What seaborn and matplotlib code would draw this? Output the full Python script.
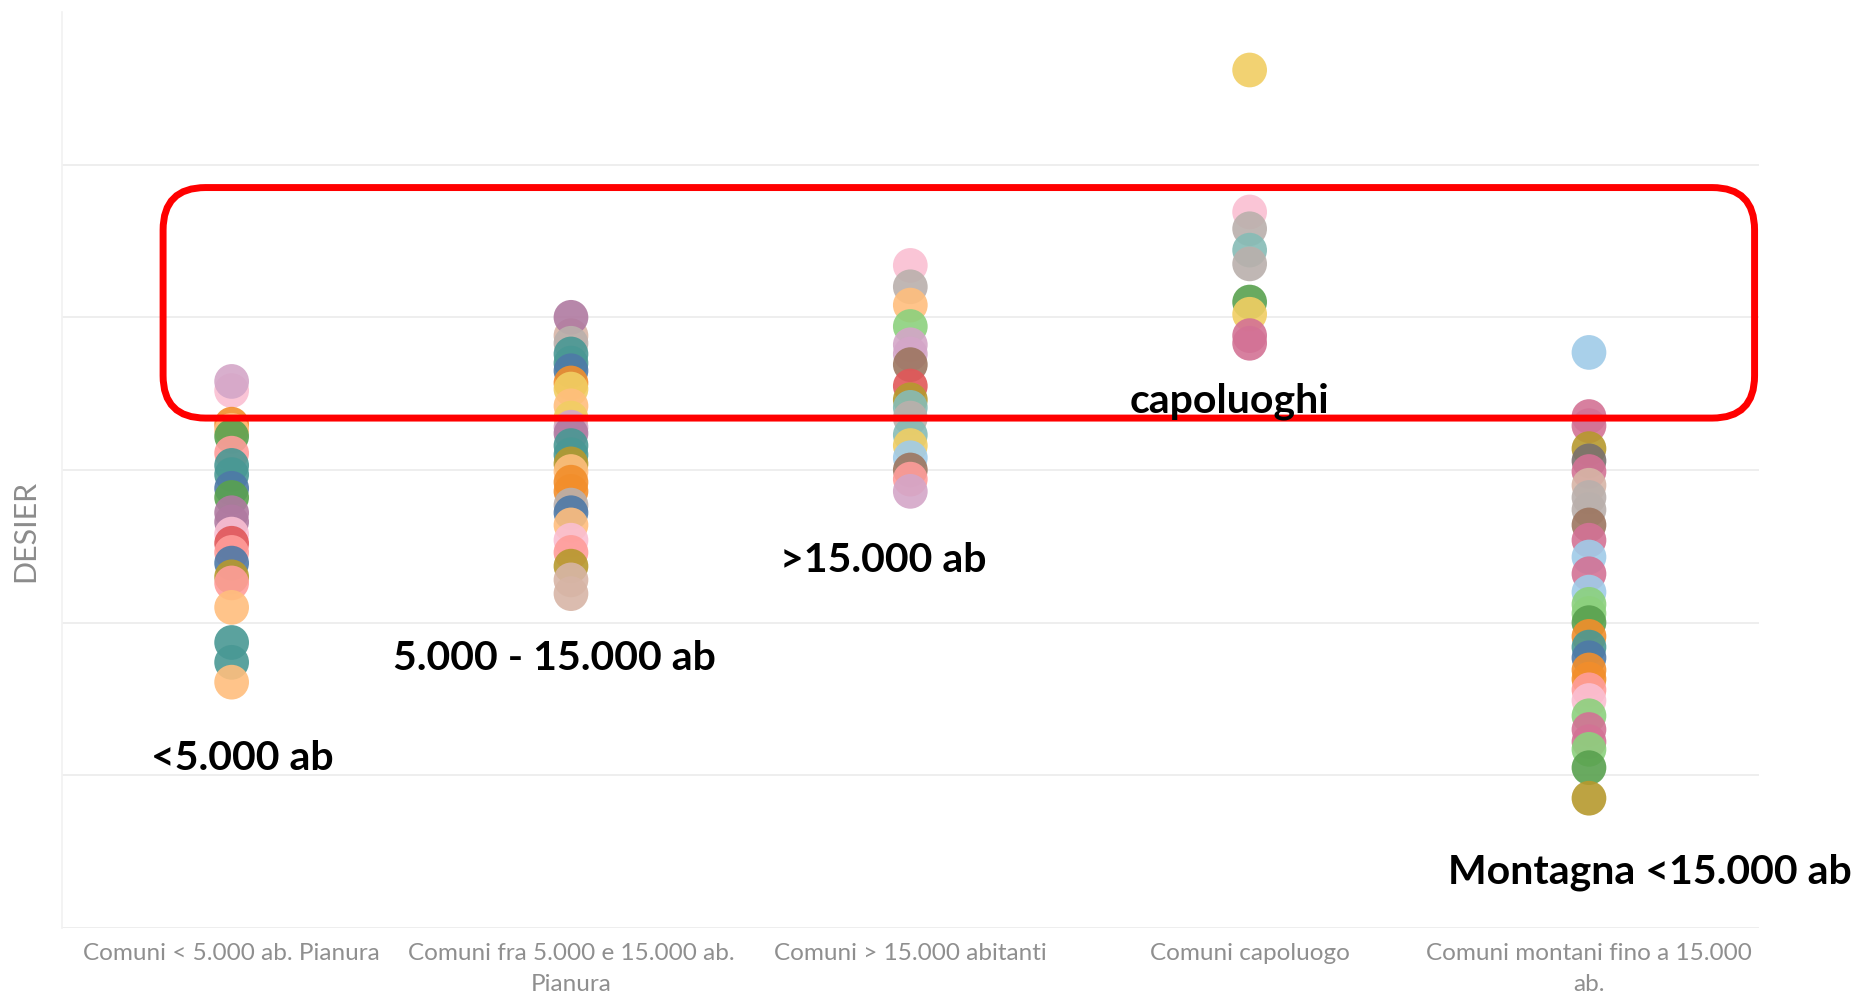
import matplotlib
matplotlib.use("Agg")
import matplotlib.pyplot as plt
from matplotlib.patches import FancyBboxPatch
import seaborn as sns
import pandas as pd

# Palette Tableau 20 usata per i singoli comuni
colori = {
    'blu': '#4e79a7', 'azzurro': '#a0cbe8', 'arancio': '#f28e2b', 'pesca': '#ffbe7d',
    'verde': '#59a14f', 'verde_chiaro': '#8cd17d', 'oliva': '#b6992d', 'giallo': '#f1ce63',
    'petrolio': '#499894', 'acqua': '#86bcb6', 'rosso': '#e15759', 'salmone': '#ff9d9a',
    'grigio': '#79706e', 'grigio_chiaro': '#bab0ac', 'magenta': '#d37295', 'rosa': '#fabfd2',
    'viola': '#b07aa1', 'lilla': '#d4a6c8', 'marrone': '#9d7660', 'sabbia': '#d7b5a6',
}

categorie = [
    'Comuni < 5.000 ab. Pianura',
    'Comuni fra 5.000 e 15.000 ab.\nPianura',
    'Comuni > 15.000 abitanti',
    'Comuni capoluogo',
    'Comuni montani fino a 15.000\nab.',
]

# valori DESIER (scala arbitraria, griglia ogni 10)
desier_piccoli = [35.2, 35.8, 33.0, 32.6, 32.2, 31.1, 30.3, 29.7, 28.8, 28.2, 27.2, 26.6,
                  25.8, 25.2, 24.6, 23.9, 23.0, 22.6, 21.0, 18.7, 17.4, 16.1]
colore_piccoli = ['rosa', 'lilla', 'arancio', 'pesca', 'verde', 'salmone', 'petrolio', 'petrolio',
                  'blu', 'verde', 'viola', 'viola', 'rosa', 'rosso', 'salmone', 'blu', 'oliva',
                  'salmone', 'pesca', 'petrolio', 'petrolio', 'pesca']

desier_medi = [38.8, 40.0, 38.3, 37.6, 37.0, 36.5, 35.7, 35.3, 34.2, 33.4, 32.8, 32.4, 31.6,
               31.0, 30.4, 29.9, 29.2, 28.6, 27.7, 27.2, 26.4, 25.4, 24.6, 23.7, 22.8, 21.9]
colore_medi = ['sabbia', 'viola', 'grigio_chiaro', 'petrolio', 'petrolio', 'blu', 'arancio',
               'giallo', 'pesca', 'giallo', 'lilla', 'viola', 'petrolio', 'petrolio', 'oliva',
               'pesca', 'arancio', 'arancio', 'grigio_chiaro', 'blu', 'pesca', 'rosa', 'salmone',
               'oliva', 'sabbia', 'sabbia']

desier_grandi = [43.4, 42.0, 40.8, 39.4, 38.2, 37.6, 36.9, 35.5, 34.6, 34.1, 33.4, 32.3, 31.6,
                 30.8, 30.0, 29.4, 28.6]
colore_grandi = ['rosa', 'grigio_chiaro', 'pesca', 'verde_chiaro', 'lilla', 'lilla', 'marrone',
                 'rosso', 'oliva', 'acqua', 'grigio_chiaro', 'acqua', 'giallo', 'azzurro',
                 'marrone', 'salmone', 'lilla']

desier_capoluoghi = [56.2, 46.9, 45.8, 44.4, 43.5, 41.0, 40.2, 38.8, 38.3]
colore_capoluoghi = ['giallo', 'rosa', 'grigio_chiaro', 'acqua', 'grigio_chiaro', 'verde',
                     'giallo', 'magenta', 'magenta']

desier_montani = [37.7, 33.5, 32.9, 31.4, 30.6, 29.9, 29.0, 28.2, 27.4, 26.4, 25.4, 24.3, 23.2,
                  22.0, 21.2, 20.6, 20.0, 19.1, 18.4, 17.7, 16.9, 16.3, 15.6, 14.9, 13.9, 13.0,
                  12.2, 11.7, 10.5, 8.5]
colore_montani = ['azzurro', 'magenta', 'magenta', 'oliva', 'grigio', 'magenta', 'sabbia',
                  'grigio_chiaro', 'grigio_chiaro', 'marrone', 'magenta', 'azzurro', 'magenta',
                  'azzurro', 'verde_chiaro', 'verde_chiaro', 'verde', 'arancio', 'petrolio', 'blu',
                  'arancio', 'arancio', 'salmone', 'rosa', 'verde_chiaro', 'magenta', 'magenta',
                  'verde_chiaro', 'verde', 'oliva']

etichette = ['<5.000 ab', '5.000 - 15.000 ab', '>15.000 ab', 'capoluoghi', 'Montagna <15.000 ab']
etichette_x = [0.03, 0.95, 1.92, 2.94, 4.18]
etichette_y = [11.1, 17.65, 24.1, 34.5, 3.65]

gruppi = [
    (desier_piccoli, colore_piccoli),
    (desier_medi, colore_medi),
    (desier_grandi, colore_grandi),
    (desier_capoluoghi, colore_capoluoghi),
    (desier_montani, colore_montani),
]
righe = []
for cat, (valori, nomi) in zip(categorie, gruppi):
    for v, c in zip(valori, nomi):
        righe.append({'categoria': cat, 'DESIER': v, 'colore': c})
df = pd.DataFrame(righe)

sns.set_theme(style="white")
plt.rcParams['font.family'] = ['Lato', 'DejaVu Sans']

fig = plt.figure(figsize=(18.61, 9.99), dpi=100)
ax = fig.add_axes([0.0333, 0.0711, 0.9117, 0.9169])

sns.stripplot(data=df, x='categoria', y='DESIER', hue='colore', palette=colori,
              order=categorie, jitter=False, size=25, alpha=0.9, linewidth=0,
              legend=False, ax=ax)

ax.set_xlim(-0.5, 4.5)
ax.set_ylim(0, 60)
ax.set_yticks([0, 10, 20, 30, 40, 50])
ax.set_yticklabels([])
ax.yaxis.grid(True, color='#ebebeb', linewidth=1.2)
ax.xaxis.grid(False)
ax.set_axisbelow(True)
for lato in ['top', 'right', 'bottom']:
    ax.spines[lato].set_visible(False)
ax.spines['left'].set_color('#f2f2f2')
ax.tick_params(axis='both', length=0)
ax.tick_params(axis='x', pad=11, labelsize=17.5, labelcolor='#8f8f8f')
for t in ax.get_xticklabels():
    t.set_linespacing(1.55)
ax.set_xlabel('')
ax.set_ylabel('DESIER', fontsize=22, color='#8c8c8c')
ax.yaxis.set_label_coords(-0.0135, 0.433)

# riquadro rosso arrotondato attorno alla fascia alta
fig.canvas.draw()
px_x = ax.transData.transform((1, 0))[0] - ax.transData.transform((0, 0))[0]
px_y = ax.transData.transform((0, 1))[1] - ax.transData.transform((0, 0))[1]
riquadro = FancyBboxPatch((-0.202, 33.4), 4.69, 15.1,
                          boxstyle="round,pad=0,rounding_size=0.125",
                          mutation_aspect=px_x / px_y,
                          fill=False, edgecolor='#ff0000', linewidth=5,
                          clip_on=False, zorder=5)
ax.add_patch(riquadro)

for testo, x, y in zip(etichette, etichette_x, etichette_y):
    ax.text(x, y, testo, ha='center', va='center', fontsize=29.5, fontweight='bold',
            color='black', clip_on=False, zorder=6)

fig.savefig('out.png', dpi=100, facecolor='white')
